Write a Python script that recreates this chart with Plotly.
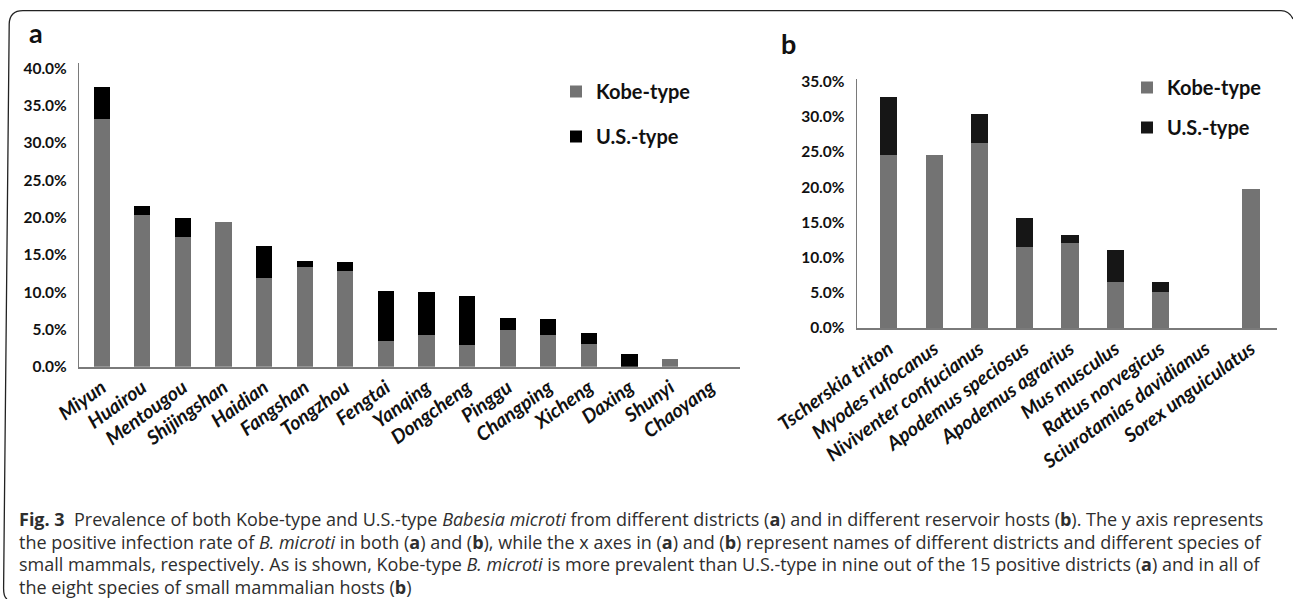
import plotly.graph_objects as go

# ---- data -------------------------------------------------------------
districts = ["Miyun", "Huairou", "Mentougou", "Shijingshan", "Haidian", "Fangshan",
             "Tongzhou", "Fengtai", "Yanqing", "Dongcheng", "Pinggu", "Changping",
             "Xicheng", "Daxing", "Shunyi", "Chaoyang"]
kobe_district = [33.2, 20.4, 17.4, 19.4, 11.9, 13.3, 12.8, 3.4, 4.2, 2.9, 4.9, 4.3, 3.0, 0.0, 1.0, 0.0]
us_district = [4.3, 1.2, 2.5, 0.0, 4.3, 0.9, 1.2, 6.7, 5.8, 6.6, 1.6, 2.1, 1.5, 1.7, 0.0, 0.0]

hosts = ["Tscherskia triton", "Myodes rufocanus", "Niviventer confucianus",
         "Apodemus speciosus", "Apodemus agrarius", "Mus musculus",
         "Rattus norvegicus", "Sciurotamias davidianus", "Sorex unguiculatus"]
kobe_host = [24.6, 24.6, 26.2, 11.5, 12.0, 6.5, 5.1, 0.0, 19.8]
us_host = [8.2, 0.0, 4.2, 4.1, 1.2, 4.6, 1.5, 0.0, 0.0]

ticks_a = [0, 5, 10, 15, 20, 25, 30, 35, 40]
ticks_b = [0, 5, 10, 15, 20, 25, 30, 35]

W, H = 1293, 599
GREY = "#737373"
BLACK_A = "#000000"
BLACK_B = "#161616"
AXIS = "#7a7a7a"
TICK_FONT = dict(family="Lato, Open Sans, sans-serif", size=15.5, color="#111111",
                 weight="bold")
CAT_FONT = dict(family="Lato, Open Sans, sans-serif", size=19.5, color="#111111",
                weight="bold", style="italic")
LEG_FONT = dict(family="Lato, Open Sans, sans-serif", size=20, color="#111111",
                weight="bold")


def px(x, y):
    """pixel position -> paper coordinates (margins are zero)"""
    return x / W, 1 - y / H


fig = go.Figure()

# ---- panel a: districts ----------------------------------------------
fig.add_trace(go.Bar(x=districts, y=kobe_district, name="Kobe-type",
                     marker=dict(color=GREY, line=dict(width=0)), width=0.4,
                     xaxis="x", yaxis="y", legend="legend", legendgroup="ka"))
fig.add_trace(go.Bar(x=districts, y=us_district, name="U.S.-type",
                     marker=dict(color=BLACK_A, line=dict(width=0)), width=0.4,
                     xaxis="x", yaxis="y", legend="legend", legendgroup="ua"))

# ---- panel b: host species -------------------------------------------
fig.add_trace(go.Bar(x=hosts, y=kobe_host, name="Kobe-type",
                     marker=dict(color=GREY, line=dict(width=0)), width=0.38,
                     xaxis="x2", yaxis="y2", legend="legend2", legendgroup="kb"))
fig.add_trace(go.Bar(x=hosts, y=us_host, name="U.S.-type",
                     marker=dict(color=BLACK_B, line=dict(width=0)), width=0.38,
                     xaxis="x2", yaxis="y2", legend="legend2", legendgroup="ub"))

xa0, _ = px(79, 0)
xa1, _ = px(740, 0)
_, ya0 = px(0, 366.7)
_, ya1 = px(0, 62.7)
xb0, _ = px(856.7, 0)
xb1, _ = px(1277, 0)
_, yb0 = px(0, 328)
_, yb1 = px(0, 79.3)

common_x = dict(showgrid=False, zeroline=False, showline=True, linecolor=AXIS,
                linewidth=2, ticks="", tickangle=-36, tickfont=CAT_FONT,
                type="category", fixedrange=True, automargin=False)
common_y = dict(showgrid=False, zeroline=False, showline=True, linecolor=AXIS,
                linewidth=1.2, ticks="", tickfont=TICK_FONT,
                ticklabelstandoff=8, fixedrange=True, automargin=False)

lx, ly = px(556, 72)
lx2, ly2 = px(1127, 68)

fig.update_layout(
    width=W, height=H,
    margin=dict(l=0, r=0, t=0, b=0, autoexpand=False),
    paper_bgcolor="white", plot_bgcolor="white",
    barmode="stack",
    showlegend=True,
    xaxis=dict(common_x, domain=[xa0, xa1], range=[-0.56, 15.72], anchor="y"),
    yaxis=dict(common_y, domain=[ya0, ya1], range=[0, 40.75], tickvals=ticks_a,
               ticktext=[f"{v:.1f}%" for v in ticks_a], anchor="x"),
    xaxis2=dict(common_x, domain=[xb0, xb1], range=[-0.71, 8.575], anchor="y2"),
    yaxis2=dict(common_y, domain=[yb0, yb1], range=[0, 35.3], tickvals=ticks_b,
                ticktext=[f"{v:.1f}%" for v in ticks_b], anchor="x2"),
    legend=dict(x=lx, y=ly, xanchor="left", yanchor="top", font=LEG_FONT,
                bgcolor="rgba(0,0,0,0)", tracegroupgap=16, itemsizing="constant"),
    legend2=dict(x=lx2, y=ly2, xanchor="left", yanchor="top", font=LEG_FONT,
                 bgcolor="rgba(0,0,0,0)", tracegroupgap=11, itemsizing="constant"),
)

# ---- panel letters ---------------------------------------------------
for letter, (x, y) in (("a", (27, 32)), ("b", (779, 43))):
    fx, fy = px(x, y)
    fig.add_annotation(text=f"<b>{letter}</b>", x=fx, y=fy, xref="paper", yref="paper",
                       xanchor="left", yanchor="middle", showarrow=False,
                       font=dict(family="Lato, Open Sans, sans-serif", size=27,
                                 color="#111111"))

# ---- caption ---------------------------------------------------------
caption_lines = [
    "<b>Fig. 3</b>  Prevalence of both Kobe-type and U.S.-type <i>Babesia microti</i> from "
    "different districts (<b>a</b>) and in different reservoir hosts (<b>b</b>). "
    "The y axis represents",
    "the positive infection rate of <i>B. microti</i> in both (<b>a</b>) and (<b>b</b>), "
    "while the x axes in (<b>a</b>) and (<b>b</b>) represent names of different districts "
    "and different species of",
    "small mammals, respectively. As is shown, Kobe-type <i>B. microti</i> is more prevalent "
    "than U.S.-type in nine out of the 15 positive districts (<b>a</b>) and in all of",
    "the eight species of small mammalian hosts (<b>b</b>)",
]
for i, line in enumerate(caption_lines):
    fx, fy = px(17, 519 + 22.5 * i)
    fig.add_annotation(text=line, x=fx, y=fy, xref="paper", yref="paper",
                       xanchor="left", yanchor="middle", showarrow=False,
                       font=dict(family="Open Sans, Lato, sans-serif", size=18,
                                 color="#2e2e2e"))

# ---- figure frame (rounded corner box) --------------------------------
def pp(x, y):
    a, b = px(x, y)
    return f"{a:.5f},{b:.5f}"

frame = (f"M {pp(7, 599)} Q {pp(3.5, 597)} {pp(3.6, 588)} L {pp(9.2, 24)} "
         f"Q {pp(9.6, 10.7)} {pp(23, 10.7)} L {pp(1281, 10.7)} "
         f"Q {pp(1289, 10.7)} {pp(1293, 19)}")
fig.add_shape(type="path", path=frame, xref="paper", yref="paper",
              line=dict(color="#222222", width=1.3))

fig.write_html("out.html")
